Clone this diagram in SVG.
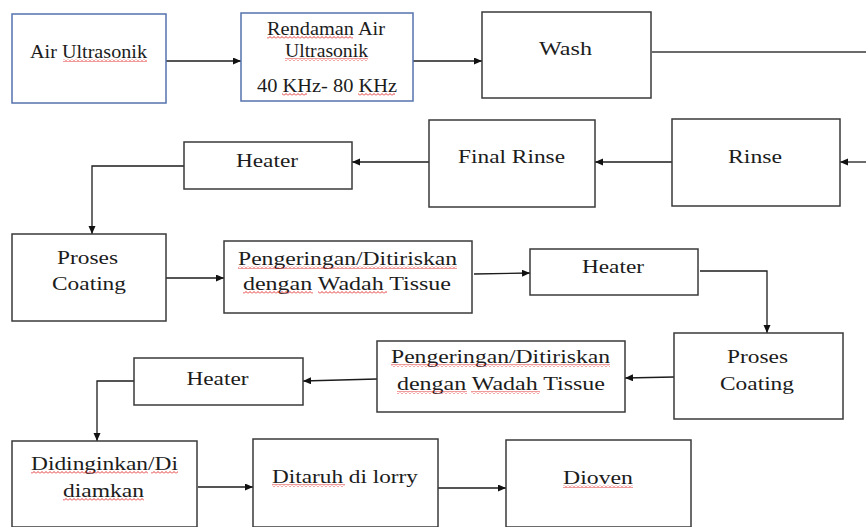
<svg xmlns="http://www.w3.org/2000/svg" width="866" height="527" viewBox="0 0 866 527">
<style>
.box{fill:#fff;stroke:#3a3a3a;stroke-width:1.5}
.bbox{fill:#fff;stroke:#5673ad;stroke-width:1.5}
.t{font-family:"Liberation Serif","Times New Roman",serif;font-size:19px;fill:#1c1c1c;text-anchor:middle}
.c{fill:none;stroke:#1c1c1c;stroke-width:1.3;marker-end:url(#ah)}
.cn{fill:none;stroke:#3a3a3a;stroke-width:1.5}
.sq{fill:url(#sqp)}
</style>
<defs>
<marker id="ah" markerUnits="userSpaceOnUse" markerWidth="9" markerHeight="8" refX="8" refY="3.5" orient="auto">
<path d="M0,0 L8,3.5 L0,7 z" fill="#111"/>
</marker>
<pattern id="sqp" patternUnits="userSpaceOnUse" width="4" height="3">
<path d="M0,2.5 L2,0.5 L4,2.5" fill="none" stroke="#e02020" stroke-width="0.9"/>
</pattern>
</defs>
<rect width="866" height="527" fill="#fff"/>
<g id="connectors">
<path class="c" d="M166,61 H241"/>
<path class="c" d="M413,61 H482"/>
<path class="cn" d="M652,52 H866"/>
<path class="c" d="M866,162 H840"/>
<path class="c" d="M672,162 H595"/>
<path class="c" d="M429,162 H352"/>
<path class="c" d="M184,166 H92 V234"/>
<path class="c" d="M166,278 H224"/>
<path class="c" d="M474,274 L530,273"/>
<path class="c" d="M700,271 H767 V333"/>
<path class="c" d="M674,377 L625,378"/>
<path class="c" d="M377,379 L303,381"/>
<path class="c" d="M134,381 H97 V441"/>
<path class="c" d="M198,487 H253"/>
<path class="c" d="M438,488 H506"/>
</g>
<g id="air-ultrasonik">
<rect class="bbox" x="12" y="14" width="154" height="89"/>
<text class="t" x="88.5" y="58" textLength="117" lengthAdjust="spacingAndGlyphs">Air Ultrasonik</text>
<rect class="sq" x="63" y="59" width="84" height="3"/>
</g>
<g id="rendaman">
<rect class="bbox" x="241" y="13" width="172" height="88"/>
<text class="t" x="326" y="35" textLength="118" lengthAdjust="spacingAndGlyphs">Rendaman Air</text>
<text class="t" x="326.5" y="57" textLength="83" lengthAdjust="spacingAndGlyphs">Ultrasonik</text>
<text class="t" x="327" y="92" textLength="140" lengthAdjust="spacingAndGlyphs">40 KHz- 80 KHz</text>
<rect class="sq" x="267" y="36" width="86" height="3"/>
<rect class="sq" x="285" y="58" width="83" height="3"/>
<rect class="sq" x="282" y="93" width="25" height="3"/>
<rect class="sq" x="358" y="93" width="37" height="3"/>
</g>
<g id="wash">
<rect class="box" x="482" y="12" width="169" height="86"/>
<text class="t" x="565.5" y="55" textLength="53" lengthAdjust="spacingAndGlyphs">Wash</text>
</g>
<g id="rinse">
<rect class="box" x="672" y="119" width="168" height="87"/>
<text class="t" x="755" y="163" textLength="54" lengthAdjust="spacingAndGlyphs">Rinse</text>
</g>
<g id="final-rinse">
<rect class="box" x="429" y="120" width="166" height="87"/>
<text class="t" x="511.5" y="163" textLength="107" lengthAdjust="spacingAndGlyphs">Final Rinse</text>
</g>
<g id="heater-1">
<rect class="box" x="184" y="142" width="168" height="47"/>
<text class="t" x="267" y="167" textLength="62" lengthAdjust="spacingAndGlyphs">Heater</text>
</g>
<g id="proses-coating-1">
<rect class="box" x="12" y="234" width="154" height="87"/>
<text class="t" x="87.5" y="264" textLength="61" lengthAdjust="spacingAndGlyphs">Proses</text>
<text class="t" x="89" y="290" textLength="74" lengthAdjust="spacingAndGlyphs">Coating</text>
</g>
<g id="pengeringan-1">
<rect class="box" x="224" y="241" width="248" height="72"/>
<text class="t" x="347.5" y="265" textLength="219" lengthAdjust="spacingAndGlyphs">Pengeringan/Ditiriskan</text>
<text class="t" x="347" y="290" textLength="208" lengthAdjust="spacingAndGlyphs">dengan Wadah Tissue</text>
<rect class="sq" x="238" y="266" width="219" height="3"/>
<rect class="sq" x="243" y="291" width="70" height="3"/>
<rect class="sq" x="318" y="291" width="69" height="3"/>
</g>
<g id="heater-2">
<rect class="box" x="530" y="249" width="168" height="46"/>
<text class="t" x="613" y="273" textLength="62" lengthAdjust="spacingAndGlyphs">Heater</text>
</g>
<g id="proses-coating-2">
<rect class="box" x="674" y="333" width="169" height="86"/>
<text class="t" x="757.5" y="363" textLength="61" lengthAdjust="spacingAndGlyphs">Proses</text>
<text class="t" x="757" y="390" textLength="74" lengthAdjust="spacingAndGlyphs">Coating</text>
</g>
<g id="pengeringan-2">
<rect class="box" x="377" y="341" width="248" height="71"/>
<text class="t" x="500.5" y="363" textLength="219" lengthAdjust="spacingAndGlyphs">Pengeringan/Ditiriskan</text>
<text class="t" x="501" y="390" textLength="208" lengthAdjust="spacingAndGlyphs">dengan Wadah Tissue</text>
<rect class="sq" x="391" y="364" width="219" height="3"/>
<rect class="sq" x="397" y="391" width="70" height="3"/>
<rect class="sq" x="471" y="391" width="69" height="3"/>
</g>
<g id="heater-3">
<rect class="box" x="134" y="358" width="169" height="47"/>
<text class="t" x="217.5" y="385" textLength="62" lengthAdjust="spacingAndGlyphs">Heater</text>
</g>
<g id="didinginkan">
<rect class="box" x="12" y="441" width="185" height="86"/>
<text class="t" x="104.5" y="470" textLength="147" lengthAdjust="spacingAndGlyphs">Didinginkan/Di</text>
<text class="t" x="103.5" y="497" textLength="81" lengthAdjust="spacingAndGlyphs">diamkan</text>
<rect class="sq" x="31" y="471" width="117" height="3"/>
<rect class="sq" x="151" y="471" width="27" height="3"/>
<rect class="sq" x="63" y="498" width="81" height="3"/>
</g>
<g id="ditaruh">
<rect class="box" x="253" y="439" width="185" height="88"/>
<text class="t" x="345" y="483" textLength="146" lengthAdjust="spacingAndGlyphs">Ditaruh di lorry</text>
<rect class="sq" x="272" y="484" width="73" height="3"/>
</g>
<g id="dioven">
<rect class="box" x="506" y="440" width="185" height="87"/>
<text class="t" x="598" y="484" textLength="70" lengthAdjust="spacingAndGlyphs">Dioven</text>
<rect class="sq" x="563" y="485" width="70" height="3"/>
</g>
</svg>
